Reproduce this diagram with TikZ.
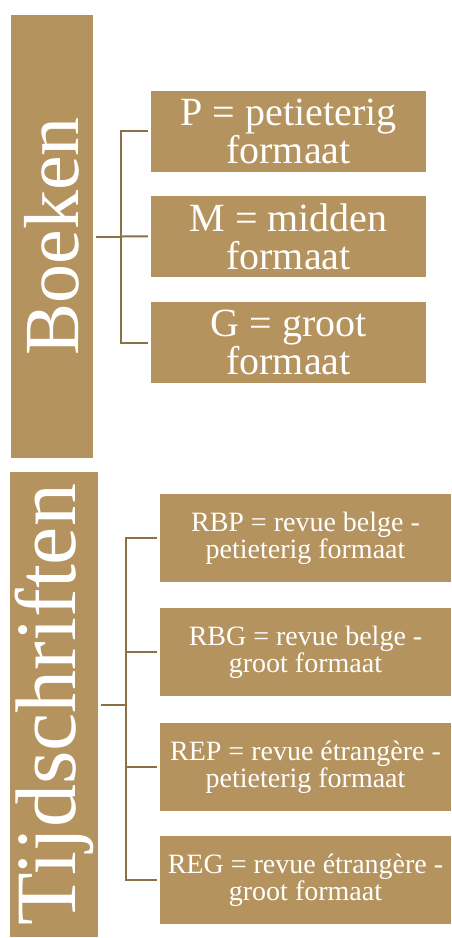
\documentclass[tikz,border=0pt]{standalone}
\usepackage{fontspec}
\setmainfont{Liberation Serif}
\usetikzlibrary{positioning}
\definecolor{goud}{HTML}{B5935F}
\definecolor{lijn}{HTML}{8C7048}

\begin{document}
\begin{tikzpicture}[x=1pt, y=-1pt, node distance=24pt,
	cat/.style={fill=goud, text=white, rotate=90, inner sep=0pt},
	code/.style={fill=goud, text=white, align=center, inner sep=0pt},
	bigcode/.style={code, minimum width=275pt, minimum height=81pt, font=\fontsize{40}{38}\selectfont},
	smallcode/.style={code, minimum width=291pt, minimum height=88pt, font=\fontsize{28}{27}\selectfont},
	tak/.style={draw=lijn, line width=2pt}
	]
	\useasboundingbox (0,0) rectangle (451,938);

	% boeken
	\node[cat, minimum width=443pt, minimum height=82pt, font=\fontsize{78}{78}\selectfont] (boeken) at (52,236.5) {Boeken};
	\node[bigcode] (p) at (288.5,131) {P = petieterig\\formaat};
	\node[bigcode] (m) [below=24pt of p] {M = midden\\formaat};
	\node[bigcode] (g) [below=25pt of m] {G = groot\\formaat};

	\draw[tak, shorten <=3pt] (boeken.south) -- ++(28pt,0) coordinate (bk);
	\draw[tak, shorten >=3pt] (bk) |- (p.west);
	\draw[tak, shorten >=3pt] (bk) -- (m.west);
	\draw[tak, shorten >=3pt] (bk) |- (g.west);

	% tijdschriften
	\node[cat, minimum width=465pt, minimum height=88pt, font=\fontsize{86}{86}\selectfont] (tijd) at (54,704.5) {Tijdschriften};
	\node[smallcode] (rbp) at (305.5,538) {RBP = revue belge -\\petieterig formaat};
	\node[smallcode] (rbg) [below=26pt of rbp] {RBG = revue belge -\\groot formaat};
	\node[smallcode] (rep) [below=26pt of rbg] {REP = revue étrangère -\\petieterig formaat};
	\node[smallcode] (reg) [below=25pt of rep] {REG = revue étrangère -\\groot formaat};

	\draw[tak, shorten <=3pt] (tijd.south) -- ++(28pt,0) coordinate (tk);
	\foreach \c in {rbp,rbg,rep,reg}
		\draw[tak, shorten >=3pt] (tk) |- (\c.west);
\end{tikzpicture}
\end{document}
